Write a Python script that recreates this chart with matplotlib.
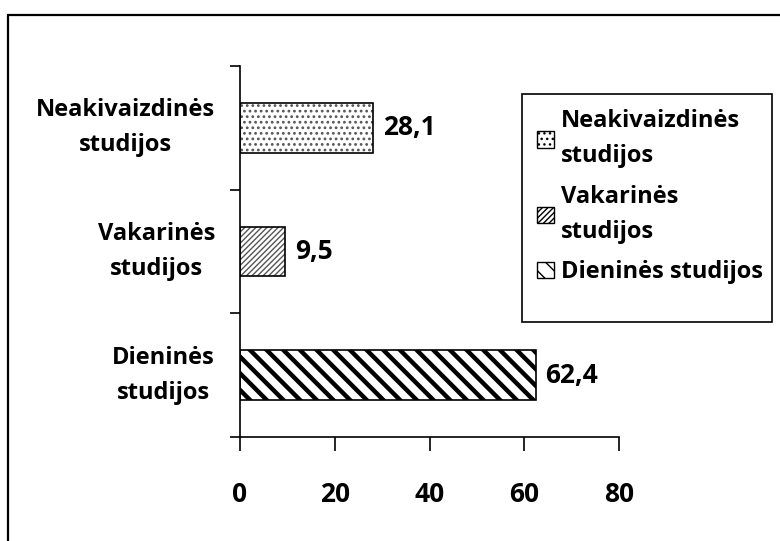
import matplotlib.pyplot as plt
from matplotlib.patches import Patch, Rectangle

plt.rcParams['font.family'] = ['Open Sans', 'DejaVu Sans']
plt.rcParams['font.weight'] = 'bold'

categories = ['Dieninės\nstudijos', 'Vakarinės\nstudijos', 'Neakivaizdinės\nstudijos']
legend_labels = ['Neakivaizdinės\nstudijos', 'Vakarinės\nstudijos', 'Dieninės studijos']
values = [62.4, 9.5, 28.1]
hatches = ['\\\\', '//////', '...']
hatch_colors = ['black', '#555555', '#555555']
hatch_widths = [3.2, 1.0, 1.2]
xticks = [0, 20, 40, 60, 80]

FS = 17
W, H = 780, 541
fig = plt.figure(figsize=(W / 100, H / 100), dpi=100)
ax = fig.add_axes([240 / W, 1 - 437 / H, (619 - 240) / W, (437 - 66) / H])

# outer chart border (runs off the right and bottom edges)
fig.patches.append(Rectangle((8 / W, -0.1), 1.2, 1 - 15 / H + 0.1, transform=fig.transFigure,
                             fill=False, edgecolor='black', linewidth=1.6, clip_on=False))

ypos = list(range(len(categories)))
for y, v, h, hc, hw in zip(ypos, values, hatches, hatch_colors, hatch_widths):
    plt.rcParams['hatch.linewidth'] = hw
    ax.barh(y, v, height=0.4, color='white', edgecolor=hc, hatch=h, linewidth=0)
    bars = ax.barh(y, v, height=0.4, fill=False, edgecolor='black', linewidth=1.2)
    ax.bar_label(bars, labels=[f'{v:.1f}'.replace('.', ',')], padding=7,
                 fontsize=FS + 2, fontweight='bold')

ax.set_xlim(0, 80)
ax.set_ylim(-0.5, 2.5)
ax.set_xticks(xticks)
ax.set_xticklabels([str(t) for t in xticks])
ax.set_yticks([-0.5, 0.5, 1.5, 2.5])
ax.set_yticklabels([])
ax.set_yticks(ypos, minor=True)
ax.set_yticklabels(categories, minor=True, fontsize=FS, fontweight='bold',
                   multialignment='center', linespacing=1.6, va='center')
ax.tick_params(axis='y', which='minor', length=0, pad=18)
ax.tick_params(axis='y', which='major', length=7, width=1.2, direction='out')
ax.tick_params(axis='x', length=10, width=1.2, direction='out', pad=22, labelsize=FS + 2)
for lab in ax.get_xticklabels():
    lab.set_fontweight('bold')
for s in ['top', 'right']:
    ax.spines[s].set_visible(False)
for s in ['left', 'bottom']:
    ax.spines[s].set_linewidth(1.2)

# legend
handles = []
for i in [2, 1, 0]:
    plt.rcParams['hatch.linewidth'] = 1.0
    handles.append(Patch(facecolor='white', edgecolor='black', hatch=hatches[i], linewidth=1))
leg = fig.legend(handles, legend_labels, loc='upper left', bbox_to_anchor=(528 / W, 1 - 100 / H),
                 frameon=False, fontsize=FS, handlelength=0.7, handleheight=0.7,
                 handletextpad=0.3, labelspacing=0.7, borderaxespad=0)
for t in leg.get_texts():
    t.set_fontweight('bold')
    t.set_linespacing(1.6)
fig.patches.append(Rectangle((522 / W, 1 - 322 / H), 250 / W, 228 / H, transform=fig.transFigure,
                             fill=False, edgecolor='black', linewidth=1.2))

fig.savefig('out.png', dpi=100)
